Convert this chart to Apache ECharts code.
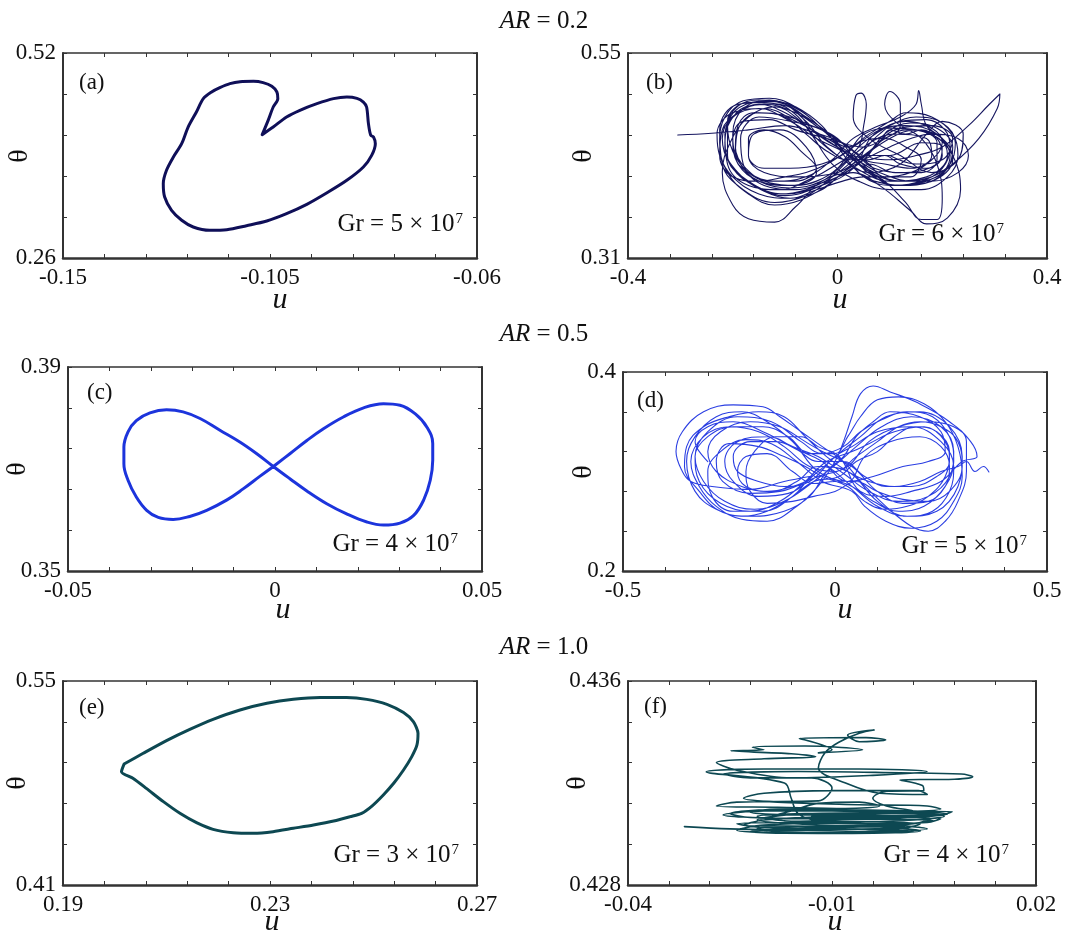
<!DOCTYPE html>
<html><head><meta charset="utf-8">
<script src="https://cdn.jsdelivr.net/npm/echarts@6/dist/echarts.min.js"></script>
<style>html,body{margin:0;padding:0;background:#fff}#c{width:1092px;height:940px}</style>
</head><body><div id="c"></div>
<script>
const FONT = '"Liberation Serif","Times New Roman",serif';

// ---------- DATA ----------
const arValues = ['0.2', '0.5', '1.0'];
const panelTags = ['(a)', '(b)', '(c)', '(d)', '(e)', '(f)'];
const grValues = ['5', '6', '4', '5', '3', '4'];
const grExponent = '7';

// (a) AR=0.2, Gr=5e7 : periodic
const xRangeA = [-0.15, -0.06], yRangeA = [0.26, 0.52];
const xTicksA = ['-0.15', '-0.105', '-0.06'], yTicksA = ['0.26', '0.52'];
const orbitA = [
  [-0.1067,0.4164],[-0.1054,0.4346],[-0.1043,0.4515],[-0.1033,0.4621],[-0.1035,0.4705],[-0.1046,0.4777],
  [-0.1065,0.4824],[-0.1086,0.4841],[-0.1115,0.4836],[-0.1137,0.4811],[-0.1159,0.4760],[-0.1177,0.4705],
  [-0.1195,0.4621],[-0.1210,0.4452],[-0.1228,0.4261],[-0.1242,0.4050],[-0.1260,0.3881],[-0.1275,0.3712],
  [-0.1282,0.3543],[-0.1279,0.3373],[-0.1264,0.3204],[-0.1242,0.3078],[-0.1217,0.2993],[-0.1181,0.2951],
  [-0.1144,0.2959],[-0.1101,0.3010],[-0.1057,0.3069],[-0.1014,0.3162],[-0.0970,0.3280],[-0.0927,0.3424],
  [-0.0883,0.3585],[-0.0847,0.3754],[-0.0829,0.3902],[-0.0821,0.4050],[-0.0825,0.4135],[-0.0831,0.4156],
  [-0.0836,0.4304],[-0.0840,0.4515],[-0.0847,0.4578],[-0.0861,0.4625],[-0.0883,0.4642],[-0.0912,0.4621],
  [-0.0948,0.4557],[-0.0985,0.4473],[-0.1014,0.4388],[-0.1043,0.4261],[-0.1067,0.4164]
];

// (b) AR=0.2, Gr=6e7 : chaotic
const xRangeB = [-0.4, 0.4], yRangeB = [0.31, 0.55];
const xTicksB = ['-0.4', '0', '0.4'], yTicksB = ['0.31', '0.55'];
const orbitB = [
  [-0.305,0.454],[-0.24,0.456],[-0.17,0.46],[-0.10,0.465],[-0.05,0.458],[0.01,0.445],[0.05,0.43],[0.10,0.43],[0.16,0.445],[0.20,0.44],[0.19,0.42],[0.13,0.41],[0.07,0.415],[0.03,0.435],
  [-0.03,0.46],[-0.11,0.49],[-0.17,0.492],[-0.21,0.47],[-0.21,0.43],[-0.17,0.40],[-0.10,0.385],[-0.03,0.395],[0.03,0.415],
  [0.07,0.455],[0.13,0.465],[0.19,0.455],[0.21,0.43],[0.17,0.405],[0.10,0.40],[0.05,0.41],[-0.02,0.44],
  [-0.06,0.47],[-0.12,0.493],[-0.19,0.49],[-0.225,0.46],[-0.22,0.42],[-0.18,0.39],[-0.12,0.375],[-0.06,0.383],[-0.02,0.40],
  [0.05,0.44],[0.11,0.455],[0.17,0.45],[0.18,0.43],[0.14,0.415],[0.09,0.42],[0.05,0.425],
  [-0.04,0.455],[-0.08,0.482],[-0.13,0.495],[-0.18,0.485],[-0.20,0.455],[-0.19,0.425],[-0.15,0.40],[-0.09,0.395],[-0.04,0.41],
  [-0.06,0.44],[-0.11,0.46],[-0.16,0.455],[-0.17,0.43],[-0.14,0.41],[-0.08,0.405],[0.0,0.41],
  [0.04,0.425],[0.10,0.45],[0.15,0.46],[0.20,0.45],[0.22,0.425],[0.18,0.40],[0.12,0.395],[0.07,0.40],[0.03,0.41],
  [-0.03,0.40],[-0.08,0.37],[-0.12,0.352],[-0.17,0.356],[-0.20,0.372],[-0.22,0.41],[-0.205,0.445],[-0.17,0.475],[-0.12,0.487],[-0.07,0.47],[-0.04,0.45],
  [0.0,0.43],[0.06,0.41],[0.12,0.42],[0.17,0.455],[0.20,0.47],[0.24,0.455],[0.23,0.425],[0.18,0.41],[0.12,0.43],[0.06,0.45],
  [0.03,0.475],[0.035,0.50],[0.045,0.503],[0.055,0.49],[0.05,0.465],[0.04,0.44],
  [0.0,0.42],[-0.06,0.40],[-0.11,0.39],[-0.17,0.395],[-0.21,0.42],[-0.215,0.455],[-0.19,0.48],[-0.14,0.49],[-0.08,0.48],[-0.03,0.46],[0.02,0.44],
  [0.06,0.455],[0.10,0.47],[0.13,0.48],[0.18,0.475],[0.22,0.455],[0.23,0.43],[0.21,0.405],[0.16,0.39],[0.10,0.39],[0.04,0.40],[-0.01,0.42],
  [-0.05,0.455],[-0.08,0.478],[-0.12,0.49],[-0.17,0.488],[-0.205,0.47],[-0.215,0.445],[-0.20,0.415],[-0.16,0.395],[-0.11,0.385],[-0.06,0.39],[-0.01,0.405],
  [0.04,0.43],[0.08,0.455],[0.12,0.47],[0.17,0.472],[0.205,0.46],[0.215,0.44],[0.20,0.415],[0.16,0.40],[0.11,0.395],[0.07,0.405],[0.04,0.42],
  [0.0,0.45],[-0.05,0.465],[-0.11,0.478],[-0.16,0.48],[-0.19,0.465],[-0.195,0.44],[-0.175,0.415],[-0.13,0.40],[-0.08,0.40],[-0.04,0.415],
  [-0.07,0.435],[-0.10,0.452],[-0.14,0.46],[-0.17,0.45],[-0.17,0.43],[-0.14,0.415],[-0.09,0.415],[-0.03,0.42],
  [0.02,0.435],[0.05,0.455],[0.10,0.462],[0.15,0.46],[0.19,0.445],[0.19,0.425],[0.16,0.41],[0.11,0.41],[0.06,0.42],[0.05,0.415],
  [0.09,0.40],[0.13,0.375],[0.16,0.355],[0.19,0.355],[0.20,0.38],[0.19,0.42],[0.16,0.45],[0.11,0.47],[0.09,0.49],[0.10,0.505],[0.12,0.49],[0.12,0.465],
  [0.08,0.445],[0.06,0.43],[0.10,0.425],[0.15,0.43],[0.20,0.44],[0.25,0.465],[0.29,0.49],[0.31,0.502],[0.305,0.485],[0.27,0.45],[0.22,0.42],[0.17,0.40],[0.10,0.395],[0.05,0.405],
  [0.0,0.44],[-0.03,0.465],[-0.08,0.487],[-0.13,0.497],[-0.18,0.494],[-0.215,0.475],[-0.225,0.445],[-0.21,0.41],[-0.17,0.385],[-0.12,0.372],[-0.07,0.378],[-0.02,0.395],[0.02,0.415],
  [0.05,0.43],[0.08,0.445],[0.10,0.46],[0.13,0.455],[0.16,0.46],[0.19,0.45],[0.20,0.43],[0.17,0.415],[0.12,0.42],[0.09,0.43],[0.06,0.425],[0.02,0.425],
  [-0.02,0.435],[-0.06,0.455],[-0.10,0.475],[-0.15,0.48],[-0.19,0.46],[-0.195,0.43],[-0.17,0.41],[-0.12,0.40],[-0.06,0.405],[-0.01,0.425],
  [0.03,0.45],[0.08,0.465],[0.12,0.475],[0.15,0.49],[0.155,0.506],[0.16,0.49],[0.17,0.465],[0.20,0.45],[0.215,0.43],[0.19,0.405],[0.14,0.40],[0.08,0.41],[0.05,0.42],
  [0.01,0.435],[-0.04,0.45],[-0.09,0.47],[-0.15,0.485],[-0.20,0.475],[-0.22,0.45],[-0.205,0.42],[-0.16,0.395],[-0.10,0.383],[-0.05,0.39],[0.0,0.405],
  [0.05,0.425],[0.09,0.455],[0.14,0.468],[0.19,0.462],[0.22,0.44],[0.21,0.415],[0.17,0.398],[0.11,0.395],[0.07,0.408],[0.03,0.43],
  [-0.02,0.45],[-0.08,0.47],[-0.14,0.485],[-0.20,0.48],[-0.23,0.455],[-0.225,0.43],[-0.20,0.405],[-0.15,0.385],[-0.09,0.38],[-0.03,0.39],[0.01,0.41],
  [0.05,0.425],[0.10,0.44],[0.14,0.45],[0.18,0.455],[0.23,0.45],[0.25,0.43],[0.23,0.41],[0.18,0.40],[0.12,0.40],[0.07,0.41],[0.02,0.43],
  [-0.01,0.452],[-0.06,0.475],[-0.10,0.49],[-0.15,0.495],[-0.19,0.488],[-0.21,0.465],[-0.20,0.435],[-0.17,0.41],[-0.13,0.398],[-0.08,0.395],[-0.04,0.40],[0.0,0.415],
  [0.04,0.445],[0.09,0.45],[0.13,0.44],[0.16,0.425],[0.14,0.405],[0.09,0.405],[0.06,0.42],
  [0.02,0.44],[-0.03,0.46],[-0.09,0.47],[-0.15,0.475],[-0.185,0.45],[-0.18,0.42],[-0.14,0.395],[-0.08,0.39],[-0.02,0.40],
  [0.03,0.41],[0.08,0.395],[0.14,0.365],[0.17,0.35],[0.21,0.357],[0.235,0.39],[0.22,0.43],[0.18,0.455],[0.13,0.46],[0.09,0.45],[0.05,0.44],
  [-0.02,0.45],[-0.08,0.46],[-0.13,0.472],[-0.18,0.47],[-0.20,0.45],[-0.19,0.42],[-0.15,0.40],[-0.09,0.392],[-0.03,0.40],[0.01,0.42],
  [0.05,0.445],[0.10,0.465],[0.15,0.475],[0.20,0.468],[0.225,0.445],[0.215,0.42],[0.18,0.405],[0.13,0.40],[0.08,0.405],[0.03,0.425],
  [-0.02,0.455],[-0.07,0.482],[-0.125,0.494],[-0.175,0.49],[-0.21,0.468],[-0.215,0.44],[-0.19,0.41],[-0.14,0.388],[-0.09,0.38],[-0.04,0.39],[0.01,0.40],
  [0.05,0.405],[0.09,0.405],[0.14,0.41],[0.18,0.425],[0.20,0.445],[0.18,0.462],[0.13,0.47],[0.08,0.46],[0.03,0.44],
  [-0.02,0.42],[-0.06,0.41],[-0.10,0.405],[-0.15,0.40],[-0.20,0.405],[-0.225,0.43],[-0.22,0.46],[-0.19,0.48],[-0.15,0.49],[-0.10,0.48],[-0.05,0.46],[0.0,0.44],
  [0.04,0.425],[0.07,0.44],[0.11,0.46],[0.18,0.465],[0.22,0.45],[0.20,0.425],[0.15,0.42],[0.10,0.43]
];

// (c) AR=0.5, Gr=4e7 : figure-eight
const xRangeC = [-0.05, 0.05], yRangeC = [0.35, 0.39];
const xTicksC = ['-0.05', '0', '0.05'], yTicksC = ['0.35', '0.39'];
const orbitC = [
  [-0.0004,0.3705],[0.0036,0.3730],[0.0077,0.3756],[0.0117,0.3779],[0.0165,0.3802],[0.0214,0.3820],[0.0262,0.3828],
  [0.0302,0.3825],[0.0339,0.3808],[0.0367,0.3782],[0.0381,0.3750],[0.0381,0.3717],[0.0375,0.3678],[0.0359,0.3639],
  [0.0335,0.3609],[0.0302,0.3594],[0.0262,0.3590],[0.0222,0.3596],[0.0173,0.3612],[0.0125,0.3632],[0.0077,0.3657],
  [0.0036,0.3681],[-0.0004,0.3705],[-0.0044,0.3730],[-0.0085,0.3753],[-0.0133,0.3776],[-0.0181,0.3799],[-0.0222,0.3812],
  [-0.0262,0.3816],[-0.0302,0.3810],[-0.0335,0.3795],[-0.0355,0.3773],[-0.0365,0.3743],[-0.0365,0.3710],[-0.0355,0.3678],
  [-0.0335,0.3645],[-0.0310,0.3619],[-0.0282,0.3605],[-0.0246,0.3601],[-0.0206,0.3607],[-0.0165,0.3619],[-0.0117,0.3639],
  [-0.0077,0.3661],[-0.0036,0.3686],[-0.0004,0.3705]
];

// (d) AR=0.5, Gr=5e7 : chaotic
const xRangeD = [-0.5, 0.5], yRangeD = [0.2, 0.4];
const xTicksD = ['-0.5', '0', '0.5'], yTicksD = ['0.2', '0.4'];
const orbitD = [
  [-0.30,0.31],[-0.33,0.33],[-0.30,0.345],[-0.24,0.35],[-0.17,0.34],[-0.10,0.325],[-0.04,0.315],[0.02,0.298],[0.08,0.28],[0.15,0.27],[0.22,0.275],[0.27,0.295],[0.28,0.32],[0.25,0.345],[0.18,0.355],[0.11,0.345],[0.05,0.325],[0.01,0.31],
  [-0.05,0.29],[-0.12,0.27],[-0.19,0.262],[-0.26,0.27],[-0.31,0.29],[-0.33,0.315],[-0.30,0.34],[-0.23,0.355],[-0.15,0.35],[-0.08,0.33],[-0.03,0.318],
  [0.02,0.325],[0.06,0.34],[0.11,0.352],[0.17,0.36],[0.23,0.355],[0.27,0.335],[0.28,0.31],[0.26,0.285],[0.21,0.265],[0.15,0.26],[0.09,0.27],[0.04,0.285],[0.0,0.29],
  [-0.05,0.288],[-0.10,0.30],[-0.16,0.318],[-0.21,0.315],[-0.23,0.30],[-0.21,0.285],[-0.15,0.28],[-0.09,0.29],[-0.04,0.305],
  [0.03,0.30],[0.10,0.27],[0.17,0.255],[0.24,0.26],[0.29,0.285],[0.30,0.315],[0.27,0.345],[0.20,0.36],[0.12,0.355],[0.06,0.335],[0.02,0.322],
  [-0.04,0.30],[-0.11,0.278],[-0.18,0.275],[-0.24,0.29],[-0.26,0.31],[-0.23,0.33],[-0.16,0.335],[-0.09,0.322],[-0.04,0.31],
  [0.02,0.31],[0.07,0.295],[0.12,0.285],[0.18,0.285],[0.24,0.295],[0.27,0.31],[0.26,0.33],[0.21,0.345],[0.14,0.34],[0.08,0.328],[0.04,0.32],
  [-0.02,0.31],[-0.07,0.29],[-0.13,0.27],[-0.20,0.26],[-0.27,0.268],[-0.32,0.29],[-0.33,0.315],[-0.30,0.335],[-0.24,0.345],[-0.17,0.345],[-0.11,0.335],[-0.06,0.318],
  [0.0,0.318],[0.03,0.335],[0.06,0.355],[0.10,0.372],[0.15,0.375],[0.21,0.368],[0.26,0.35],[0.29,0.325],[0.30,0.295],[0.28,0.27],[0.24,0.25],[0.18,0.243],[0.12,0.25],[0.07,0.265],[0.04,0.28],
  [-0.03,0.29],[-0.09,0.31],[-0.15,0.328],[-0.21,0.332],[-0.27,0.32],[-0.30,0.30],[-0.29,0.275],[-0.24,0.26],[-0.17,0.26],[-0.10,0.275],[-0.06,0.295],
  [-0.12,0.29],[-0.20,0.282],[-0.29,0.285],[-0.34,0.29],[-0.36,0.30],[-0.375,0.32],[-0.36,0.34],[-0.31,0.36],[-0.24,0.367],[-0.17,0.365],[-0.13,0.355],[-0.08,0.34],[-0.03,0.325],[0.02,0.31],
  [0.06,0.29],[0.12,0.265],[0.18,0.245],[0.22,0.24],[0.26,0.25],[0.29,0.27],[0.31,0.30],[0.31,0.33],[0.27,0.35],[0.19,0.37],[0.13,0.38],[0.09,0.386],[0.06,0.378],[0.04,0.355],[0.02,0.33],[0.0,0.31],
  [-0.04,0.285],[-0.09,0.265],[-0.16,0.25],[-0.22,0.252],[-0.28,0.265],[-0.32,0.285],[-0.34,0.31],[-0.31,0.335],[-0.25,0.345],[-0.18,0.34],[-0.12,0.325],[-0.06,0.305],
  [0.0,0.30],[0.05,0.315],[0.10,0.33],[0.15,0.345],[0.20,0.35],[0.25,0.345],[0.29,0.33],[0.30,0.305],[0.27,0.28],[0.22,0.27],[0.16,0.272],[0.10,0.28],[0.05,0.29],
  [0.0,0.28],[-0.05,0.275],[-0.10,0.27],[-0.16,0.268],[-0.20,0.28],[-0.21,0.30],[-0.19,0.32],[-0.14,0.335],[-0.08,0.335],[-0.04,0.325],[0.01,0.315],
  [0.06,0.28],[0.12,0.275],[0.18,0.28],[0.25,0.29],[0.30,0.31],[0.335,0.315],[0.32,0.33],[0.28,0.345],[0.22,0.35],[0.15,0.345],[0.08,0.33],[0.03,0.305],
  [-0.04,0.295],[-0.10,0.285],[-0.16,0.28],[-0.22,0.285],[-0.28,0.30],[-0.30,0.32],[-0.27,0.34],[-0.20,0.35],[-0.13,0.345],[-0.07,0.33],[-0.03,0.32],
  [0.04,0.305],[0.10,0.28],[0.16,0.268],[0.22,0.27],[0.26,0.285],[0.27,0.305],[0.25,0.325],[0.20,0.335],[0.13,0.33],[0.07,0.315],[0.03,0.29],
  [-0.04,0.30],[-0.10,0.33],[-0.16,0.35],[-0.22,0.36],[-0.28,0.355],[-0.33,0.335],[-0.35,0.31],[-0.33,0.28],[-0.28,0.262],[-0.22,0.255],[-0.16,0.26],[-0.10,0.275],[-0.05,0.29],
  [0.01,0.295],[0.05,0.31],[0.10,0.32],[0.14,0.335],[0.19,0.345],[0.24,0.34],[0.27,0.32],[0.26,0.295],[0.22,0.275],[0.17,0.265],[0.12,0.262],[0.07,0.27],[0.03,0.285],
  [-0.03,0.295],[-0.07,0.305],[-0.12,0.315],[-0.18,0.325],[-0.25,0.328],[-0.28,0.31],[-0.265,0.29],[-0.20,0.278],[-0.13,0.28],[-0.07,0.29],[-0.03,0.305],
  [0.04,0.285],[0.10,0.265],[0.17,0.255],[0.23,0.26],[0.27,0.28],[0.28,0.305],[0.25,0.33],[0.18,0.345],[0.10,0.34],[0.04,0.325],[0.0,0.315],
  [-0.06,0.29],[-0.12,0.285],[-0.18,0.29],[-0.23,0.30],[-0.24,0.315],[-0.20,0.33],[-0.14,0.33],[-0.08,0.32],[-0.03,0.31],
  [0.03,0.29],[0.09,0.295],[0.16,0.305],[0.22,0.31],[0.26,0.32],[0.25,0.34],[0.20,0.355],[0.13,0.36],[0.09,0.35],[0.05,0.335],[0.02,0.315],
  [-0.02,0.30],[-0.06,0.275],[-0.12,0.26],[-0.20,0.255],[-0.27,0.26],[-0.32,0.28],[-0.355,0.305],[-0.35,0.325],[-0.31,0.345],[-0.25,0.355],[-0.18,0.36],[-0.12,0.355],[-0.07,0.335],[-0.02,0.315],
  [0.03,0.30],[0.08,0.29],[0.14,0.285],[0.20,0.29],[0.25,0.30],[0.29,0.305],[0.31,0.31],[0.33,0.30],[0.35,0.305],[0.363,0.2995]
];

// (e) AR=1.0, Gr=3e7 : periodic
const xRangeE = [0.19, 0.27], yRangeE = [0.41, 0.55];
const xTicksE = ['0.19', '0.23', '0.27'], yTicksE = ['0.41', '0.55'];
const orbitE = [
  [0.2018,0.4930],[0.2055,0.5004],[0.2100,0.5091],[0.2145,0.5168],[0.2190,0.5237],[0.2242,0.5301],[0.2294,0.5347],
  [0.2345,0.5374],[0.2397,0.5386],[0.2448,0.5386],[0.2487,0.5374],[0.2526,0.5340],[0.2558,0.5283],[0.2577,0.5221],
  [0.2586,0.5141],[0.2584,0.5061],[0.2574,0.4981],[0.2558,0.4889],[0.2539,0.4798],[0.2519,0.4718],[0.2497,0.4642],
  [0.2477,0.4592],[0.2455,0.4569],[0.2423,0.4539],[0.2384,0.4512],[0.2345,0.4489],[0.2306,0.4466],[0.2268,0.4455],
  [0.2229,0.4459],[0.2190,0.4482],[0.2158,0.4528],[0.2126,0.4592],[0.2094,0.4672],[0.2061,0.4763],[0.2035,0.4832],
  [0.2013,0.4878],[0.2018,0.4930]
];

// (f) AR=1.0, Gr=4e7 : chaotic
const xRangeF = [-0.04, 0.02], yRangeF = [0.428, 0.436];
const xTicksF = ['-0.04', '-0.01', '0.02'], yTicksF = ['0.428', '0.436'];
const orbitF = [
  [-0.0317,0.43029],[-0.025,0.4302],[-0.015,0.43015],[-0.005,0.4301],[0.002,0.43012],[-0.008,0.4302],[-0.020,0.43025],[-0.024,0.4304],
  [-0.015,0.43045],[-0.004,0.4304],[0.004,0.43045],[0.006,0.4306],[-0.006,0.43065],[-0.018,0.43062],[-0.026,0.43075],[-0.020,0.4309],
  [-0.005,0.4309],[0.0077,0.43088],[0.006,0.43075],[-0.008,0.4307],[-0.020,0.43055],[-0.023,0.43035],[-0.012,0.4303],[0.001,0.43025],
  [-0.010,0.43005],[-0.020,0.43008],[-0.013,0.4302],[-0.001,0.43035],[0.005,0.43052],[-0.003,0.43058],[-0.016,0.4305],
  [-0.019,0.43065],[-0.016,0.4309],[-0.012,0.4312],[-0.006,0.43125],[-0.003,0.4311],[-0.008,0.4310],[-0.018,0.43105],[-0.027,0.4311],
  [-0.024,0.43125],[-0.012,0.4313],[-0.010,0.4318],[-0.013,0.4322],[-0.022,0.4322],[-0.026,0.43235],[-0.015,0.43245],[0.0,0.4324],
  [0.009,0.43235],[0.0107,0.43225],[0.008,0.43215],[0.0,0.43212],[0.0033,0.4319],[0.0035,0.4317],[-0.002,0.43168],[-0.004,0.4314],
  [-0.002,0.4311],[0.002,0.4309],[-0.004,0.43078],[-0.016,0.43075],[-0.022,0.43085],[-0.018,0.43098],[-0.008,0.43095],[0.002,0.4309],
  [0.007,0.43078],[0.0,0.43062],[-0.012,0.43055],[-0.015,0.4308],[-0.016,0.4314],[-0.017,0.4320],[-0.0285,0.43244],[-0.020,0.43255],
  [-0.006,0.43255],[0.004,0.43245],[-0.004,0.4323],[-0.016,0.4322],[-0.024,0.4325],[-0.027,0.4328],[-0.020,0.43295],[-0.0124,0.43303],
  [-0.016,0.43315],[-0.0249,0.43326],[-0.020,0.4333],[-0.0217,0.4334],[-0.014,0.43345],[-0.0055,0.4333],[-0.012,0.43318],[-0.010,0.4333],
  [-0.0148,0.43375],[-0.005,0.43378],[-0.0021,0.43369],[-0.006,0.43362],[-0.0077,0.43388],[-0.0038,0.43408],[-0.006,0.43395],[-0.009,0.4336],
  [-0.011,0.4332],[-0.012,0.4326],[-0.008,0.4320],[-0.003,0.4316],[0.004,0.43155],[0.0027,0.4317],[-0.010,0.4317],[-0.020,0.4316],
  [-0.023,0.4314],[-0.018,0.43125],[-0.006,0.43115],[0.004,0.4311],[0.006,0.43098],[-0.002,0.43085],[-0.014,0.4308],[-0.021,0.4307],
  [-0.016,0.4305],[-0.006,0.43048],[0.003,0.4304],[0.001,0.43025],[-0.009,0.43018],[-0.018,0.43012],[-0.021,0.43022],[-0.012,0.4303],
  [-0.002,0.43035],[0.004,0.4302],[-0.004,0.43008],[-0.015,0.43005],[-0.024,0.43015],[-0.020,0.43035],[-0.008,0.43045],[0.002,0.43055],
  [0.0065,0.4307],[0.002,0.43085],[-0.010,0.4309],[-0.019,0.43095],[-0.025,0.4308],[-0.022,0.43065],[-0.010,0.4306],[0.001,0.43065],
  [0.005,0.43075],[-0.003,0.43082],[-0.015,0.43078],[-0.021,0.43055],[-0.014,0.43038],[-0.003,0.43028],[0.003,0.43012],[-0.007,0.43002],
  [-0.017,0.43003],[-0.022,0.4301],[-0.016,0.4302],[-0.006,0.43028],[0.002,0.4304],[0.0045,0.4306],[-0.004,0.4307],[-0.013,0.43068]
];

// ---------- BUILD ----------
const panels = [
  {x: xRangeA, y: yRangeA, xt: xTicksA, yt: yTicksA, data: orbitA},
  {x: xRangeB, y: yRangeB, xt: xTicksB, yt: yTicksB, data: orbitB},
  {x: xRangeC, y: yRangeC, xt: xTicksC, yt: yTicksC, data: orbitC},
  {x: xRangeD, y: yRangeD, xt: xTicksD, yt: yTicksD, data: orbitD},
  {x: xRangeE, y: yRangeE, xt: xTicksE, yt: yTicksE, data: orbitE},
  {x: xRangeF, y: yRangeF, xt: xTicksF, yt: yTicksF, data: orbitF}
];
const boxes = [
  {left: 63, top: 53, width: 414, height: 205},
  {left: 628, top: 53, width: 419, height: 205},
  {left: 68, top: 367, width: 414, height: 204},
  {left: 623, top: 372, width: 424, height: 199},
  {left: 63, top: 681, width: 414, height: 204},
  {left: 628, top: 681, width: 408, height: 204}
];
const styles = [
  {color: '#0f0f58', width: 3, smooth: 0.3},
  {color: '#15155f', width: 1.1, smooth: 0.4},
  {color: '#1c34dc', width: 3, smooth: 0.4},
  {color: '#2a3ee2', width: 1.1, smooth: 0.4},
  {color: '#0d4852', width: 3, smooth: 0.25},
  {color: '#0d4852', width: 1.6, smooth: 0.35}
];
const tagPos = [[79, 83], [646, 83], [87, 393], [637, 401], [79, 708], [644, 707]];
const grPos = [[463, 224], [1004, 234], [458, 544], [1027, 546], [459, 855], [1009, 855]];
const thetaPos = [[20, 156], [584, 156], [18, 469], [584, 472], [18, 783], [578, 783]];
const uPos = [[280, 300], [840, 300], [283, 610], [845, 610], [272, 922], [835, 922]];
const arPos = [[544, 21], [544, 334], [544, 647]];

const AX = '#333';
function fmt(labels, tol) {
  const vals = labels.map(Number);
  return v => { for (let k = 0; k < vals.length; k++) if (Math.abs(v - vals[k]) < tol) return labels[k]; return ''; };
}
const grid = [], xAxis = [], yAxis = [], series = [], graphic = [];
panels.forEach((p, i) => {
  const b = boxes[i], s = styles[i];
  grid.push({left: b.left, top: b.top, width: b.width, height: b.height, containLabel: false});
  const xi = (p.x[1] - p.x[0]) / 10, yi = (p.y[1] - p.y[0]) / 5;
  const tick = {show: true, inside: true, length: 4, lineStyle: {color: AX, width: 1}};
  const common = {gridIndex: i, type: 'value', splitLine: {show: false}, minorTick: {show: false}};
  xAxis.push(Object.assign({}, common, {position: 'bottom', min: p.x[0], max: p.x[1], interval: xi,
    axisLine: {show: true, onZero: false, lineStyle: {color: AX, width: 2.5}}, axisTick: tick,
    axisLabel: {show: true, formatter: fmt(p.xt, xi * 0.01), fontFamily: FONT, fontSize: 23, color: '#111', margin: 8, showMinLabel: true, showMaxLabel: true, hideOverlap: false}}));
  xAxis.push(Object.assign({}, common, {position: 'top', min: p.x[0], max: p.x[1], interval: xi,
    axisLine: {show: true, onZero: false, lineStyle: {color: AX, width: 1.5}}, axisTick: tick, axisLabel: {show: false}}));
  yAxis.push(Object.assign({}, common, {position: 'left', min: p.y[0], max: p.y[1], interval: yi,
    axisLine: {show: true, onZero: false, lineStyle: {color: AX, width: 2}}, axisTick: tick,
    axisLabel: {show: true, formatter: fmt(p.yt, yi * 0.01), fontFamily: FONT, fontSize: 23, color: '#111', margin: 7, showMinLabel: true, showMaxLabel: true, hideOverlap: false}}));
  yAxis.push(Object.assign({}, common, {position: 'right', min: p.y[0], max: p.y[1], interval: yi,
    axisLine: {show: true, onZero: false, lineStyle: {color: AX, width: 2}}, axisTick: tick, axisLabel: {show: false}}));
  series.push({type: 'line', xAxisIndex: 2 * i, yAxisIndex: 2 * i, data: p.data, symbol: 'none', showSymbol: false,
    smooth: s.smooth, clip: true, silent: true, lineStyle: {color: s.color, width: s.width, join: 'round', cap: 'round'}});

  graphic.push({type: 'text', x: tagPos[i][0], y: tagPos[i][1], silent: true,
    style: {text: panelTags[i], font: '23px ' + FONT, fill: '#111', align: 'left', verticalAlign: 'middle'}});
  graphic.push({type: 'text', x: grPos[i][0], y: grPos[i][1], silent: true,
    style: {text: '{m|Gr = ' + grValues[i] + ' \u00d7 10}{s|' + grExponent + '}', align: 'right', verticalAlign: 'middle', fill: '#111',
      rich: {m: {fontFamily: FONT, fontSize: 25, fill: '#111'}, s: {fontFamily: FONT, fontSize: 15, fill: '#111', verticalAlign: 'top', padding: [0, 0, 0, 1]}}}});
  graphic.push({type: 'text', x: thetaPos[i][0], y: thetaPos[i][1], rotation: Math.PI / 2, silent: true,
    style: {text: '\u03b8', font: '28px ' + FONT, fill: '#111', align: 'center', verticalAlign: 'middle'}});
  graphic.push({type: 'text', x: uPos[i][0], y: uPos[i][1], silent: true,
    style: {text: 'u', font: 'italic 30px ' + FONT, fill: '#111', align: 'center', verticalAlign: 'middle'}});
});
arValues.forEach((v, k) => {
  graphic.push({type: 'text', x: arPos[k][0], y: arPos[k][1], silent: true,
    style: {text: '{i|AR} = ' + v, align: 'center', verticalAlign: 'middle', fontFamily: FONT, fontSize: 25, fill: '#111',
      rich: {i: {fontFamily: FONT, fontSize: 25, fontStyle: 'italic', fill: '#111'}}}});
});

const chart = echarts.init(document.getElementById('c'), null, {renderer: 'canvas'});
chart.setOption({animation: false, backgroundColor: '#fff', grid, xAxis, yAxis, series, graphic});
</script></body></html>
